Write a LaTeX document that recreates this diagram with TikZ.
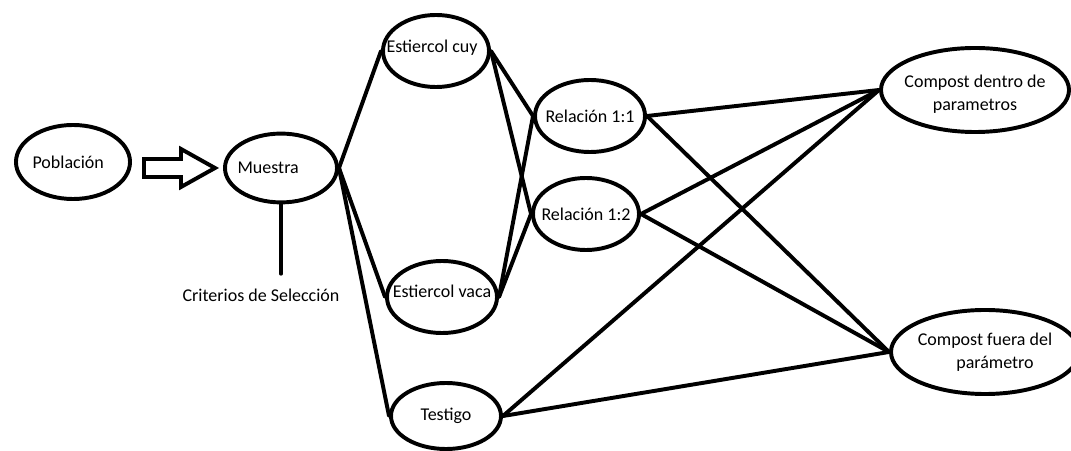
\documentclass[tikz,border=0pt]{standalone}
\usepackage{fontspec}
\setmainfont{Carlito}
\usetikzlibrary{shapes.geometric}

\begin{document}
\begin{tikzpicture}[
    x=0.025cm, y=-0.025cm,
    font=\fontsize{12.8}{16.5}\selectfont,
    elipse/.style={ellipse, draw, line width=2.8pt, inner sep=0pt, minimum width=2.75cm, minimum height=1.8cm},
    texto/.style={label={[align=center]center:#1}},
    linea/.style={line width=2.8pt, line cap=round}
]
\useasboundingbox (0,0) rectangle (1071,451);

% Left: population and sample
\node[elipse, minimum width=2.85cm, minimum height=1.85cm, label={[xshift=-0.12cm]center:Población}] (poblacion) at (73,162) {};
\node[elipse, minimum width=2.8cm, minimum height=1.72cm, label={[xshift=-0.32cm]center:Muestra}] (muestra) at (281,168) {};
\node (criterios) at (261,295) {Criterios de Selección};

% Middle: manure and control
\node[elipse, minimum width=2.65cm, label={[xshift=-0.1cm, yshift=0.07cm]center:Estiercol cuy}] (cuy) at (436,51) {};
\node[elipse, label={[yshift=0.15cm]center:Estiercol vaca}] (vaca) at (442,297) {};
\node[elipse, minimum height=1.65cm, texto=Testigo] (testigo) at (446,416) {};

% Ratios
\node[elipse, texto=Relación 1:1] (rel11) at (590,116) {};
\node[elipse, minimum width=2.65cm, texto=Relación 1:2] (rel12) at (586,214) {};

% Right: results
\node[elipse, minimum width=4.7cm, minimum height=2.1cm, label={[align=center, yshift=-0.1cm]center:{Compost dentro de\\parametros}}] (dentro) at (975,90) {};
\node[elipse, minimum width=4.7cm, minimum height=2.1cm, texto={Compost fuera del\\\hspace*{0.5cm}parámetro}] (fuera) at (985,352) {};

% Block arrow
\draw[line width=2.8pt, line join=miter] (144,159) -- (181,159) -- (181,149) -- (215,168) -- (181,187) -- (181,177) -- (144,177) -- cycle;

% Lines
\draw[linea, shorten >=0.25cm] (muestra.south) -- (muestra.south |- criterios.north);
\draw[linea] (muestra.east) -- (cuy.west);
\draw[linea] (muestra.east) -- (vaca.west);
\draw[linea] (muestra.east) -- (testigo.west);

\draw[linea] (cuy.east) -- (rel11.west);
\draw[linea] (cuy.east) -- (rel12.west);
\draw[linea] (vaca.east) -- (rel11.west);
\draw[linea] (vaca.east) -- (rel12.west);

\draw[linea] (rel11.east) -- (dentro.west);
\draw[linea] (rel11.east) -- (fuera.west);
\draw[linea] (rel12.east) -- (dentro.west);
\draw[linea] (rel12.east) -- (fuera.west);
\draw[linea] (testigo.east) -- (dentro.west);
\draw[linea] (testigo.east) -- (fuera.west);

\end{tikzpicture}
\end{document}
